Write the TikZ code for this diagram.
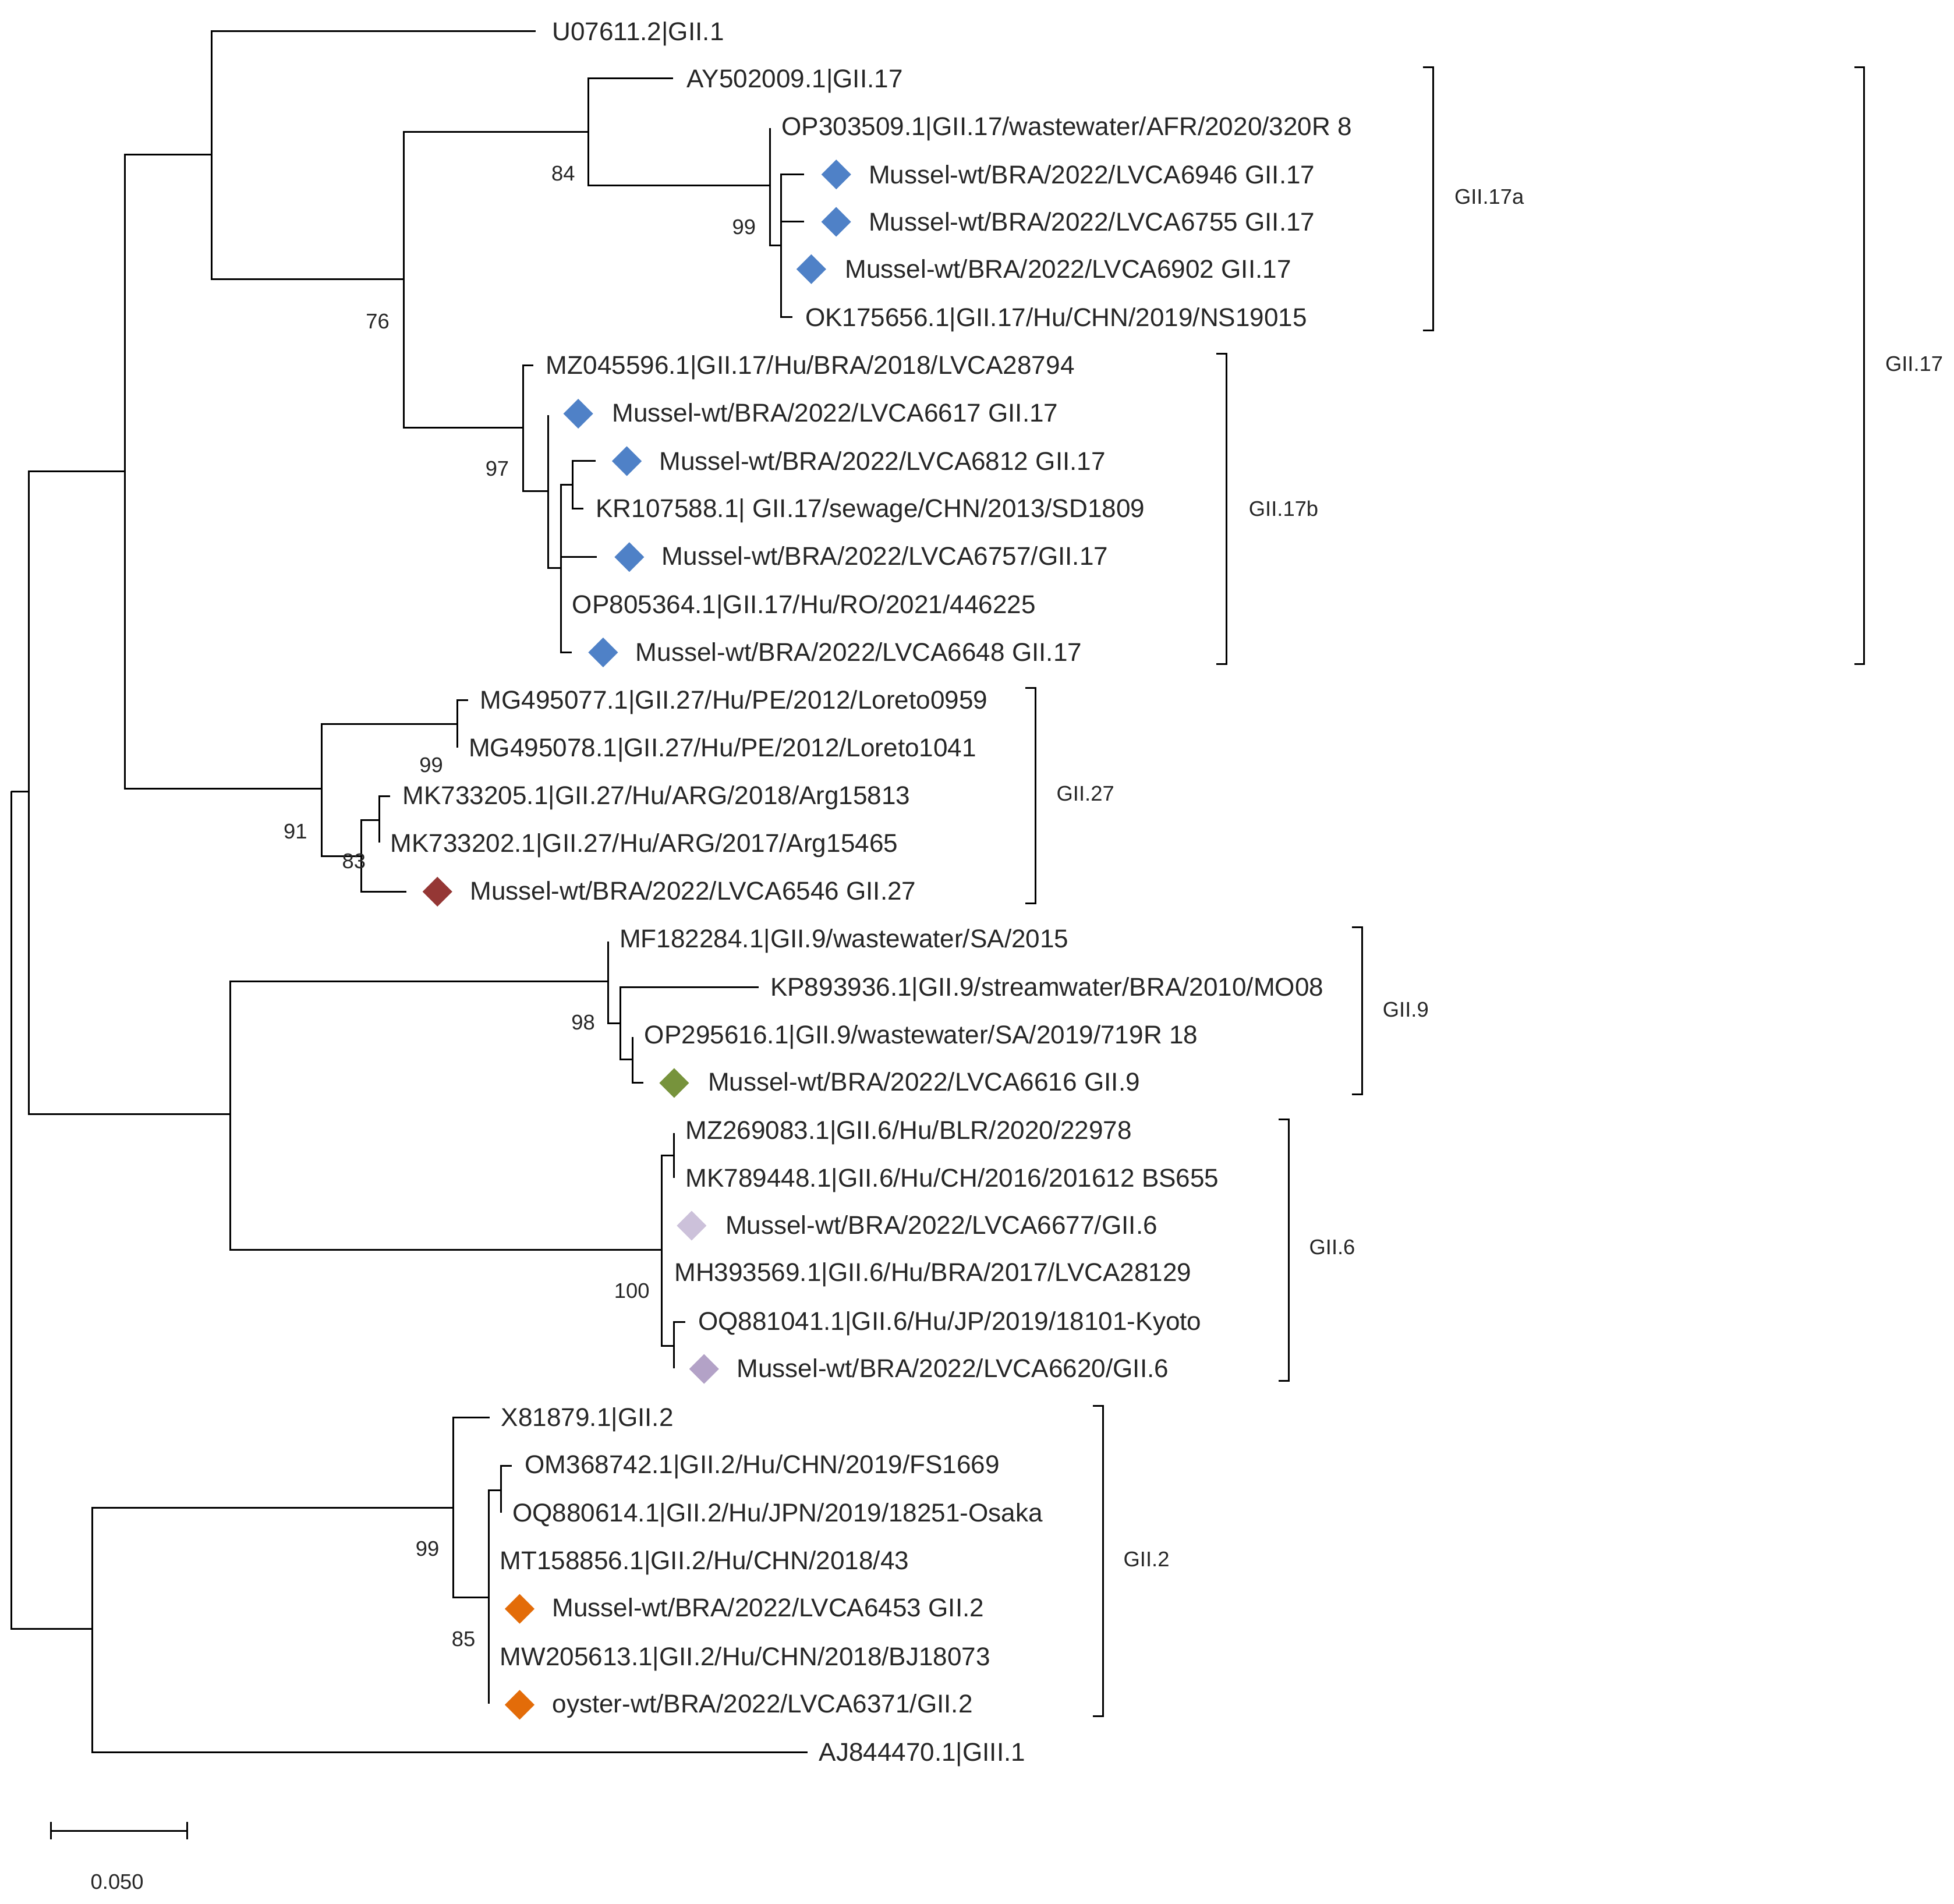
\documentclass[tikz,border=0pt]{standalone}
\usepackage{fontspec}
\setmainfont{Liberation Sans}
\usetikzlibrary{shapes.geometric}

\definecolor{markBlue}{HTML}{4F81C7}
\definecolor{markRed}{HTML}{953735}
\definecolor{markGreen}{HTML}{77933C}
\definecolor{markPale}{HTML}{CCC1DA}
\definecolor{markLilac}{HTML}{B3A2C7}
\definecolor{markOrange}{HTML}{E36C09}

\tikzset{
    branch/.style={line width=1.4pt, line join=miter},
    leaf/.style={anchor=west, inner sep=0pt, text height=14.6pt, text depth=0pt, text=black!85, font=\fontsize{20.6}{24}\selectfont},
    tag/.style={inner sep=0pt, text=black!85, font=\fontsize{17}{20}\selectfont},
    marker/.style={diamond, minimum size=24pt, inner sep=0pt, fill=#1}
}

\begin{document}
\begin{tikzpicture}[x=1pt, y=-1pt]
    \useasboundingbox (0,0) rectangle (1568,1527.4);

    % Define the positions of the inner nodes
    \coordinate (rootPos) at (9,635);
    \coordinate (aPos) at (23,635);
    \coordinate (bPos) at (100,378);
    \coordinate (cPos) at (170,124);
    \coordinate (dPos) at (324,224);
    \coordinate (ePos) at (472,106);
    \coordinate (fPos) at (618,149);
    \coordinate (gPos) at (627,197);
    \coordinate (hPos) at (420,343);
    \coordinate (iPos) at (440,394);
    \coordinate (jPos) at (450,456);
    \coordinate (kPos) at (459.5,389);
    \coordinate (lPos) at (258,633);
    \coordinate (mPos) at (367,581);
    \coordinate (nPos) at (290,687);
    \coordinate (oPos) at (304.6,658);
    \coordinate (pPos) at (185,894);
    \coordinate (qPos) at (488,787.5);
    \coordinate (rPos) at (498,821);
    \coordinate (sPos) at (507.6,850);
    \coordinate (tPos) at (531,1003);
    \coordinate (uPos) at (541,927);
    \coordinate (vPos) at (541,1080);
    \coordinate (wPos) at (74,1307);
    \coordinate (xPos) at (363.7,1210);
    \coordinate (yPos) at (392,1282);
    \coordinate (zPos) at (402,1196);

    % Define the free ends of the branches
    \coordinate (tipU07611) at (430,25);
    \coordinate (tipAY502009) at (540,63);
    \coordinate (tipOP303509) at (618,103);
    \coordinate (tip6946) at (645,140);
    \coordinate (tip6755) at (645,178);
    \coordinate (tip6902) at (627,216);
    \coordinate (tipOK175656) at (636,254.5);
    \coordinate (tipMZ045596) at (428,293);
    \coordinate (tip6617) at (440,333);
    \coordinate (tip6812) at (478,370);
    \coordinate (tipKR107588) at (468,408);
    \coordinate (tip6757) at (479,447);
    \coordinate (tipOP805364) at (450,485);
    \coordinate (tip6648) at (459,523.5);
    \coordinate (tipMG495077) at (375.5,562);
    \coordinate (tipMG495078) at (367,600);
    \coordinate (tipMK733205) at (313,639);
    \coordinate (tipMK733202) at (304.6,676);
    \coordinate (tip6546) at (326,715.5);
    \coordinate (tipMF182284) at (488,755.5);
    \coordinate (tipKP893936) at (609,792);
    \coordinate (tipOP295616) at (507.6,832);
    \coordinate (tip6616) at (516.4,869);
    \coordinate (tipMZ269083) at (541,909);
    \coordinate (tipMK789448) at (541,945);
    \coordinate (tipOQ881041) at (550,1060.6);
    \coordinate (tip6620) at (541,1098);
    \coordinate (tipX81879) at (393,1137.5);
    \coordinate (tipOM368742) at (410.6,1176);
    \coordinate (tipOQ880614) at (402,1213.6);
    \coordinate (tip6371) at (392,1367);
    \coordinate (tipAJ844470) at (648,1406);

    % Draw the tree
    \draw[branch] (rootPos) |- (aPos);
    \draw[branch] (rootPos) |- (wPos);
    \draw[branch] (aPos) |- (bPos);
    \draw[branch] (aPos) |- (pPos);
    \draw[branch] (bPos) |- (cPos);
    \draw[branch] (bPos) |- (lPos);
    \draw[branch] (cPos) |- (tipU07611);
    \draw[branch] (cPos) |- (dPos);
    \draw[branch] (dPos) |- (ePos);
    \draw[branch] (dPos) |- (hPos);
    \draw[branch] (ePos) |- (tipAY502009);
    \draw[branch] (ePos) |- (fPos);
    \draw[branch] (fPos) |- (tipOP303509);
    \draw[branch] (fPos) |- (gPos);
    \draw[branch] (gPos) |- (tip6946);
    \draw[branch] (gPos) |- (tip6755);
    \draw[branch] (gPos) |- (tip6902);
    \draw[branch] (gPos) |- (tipOK175656);
    \draw[branch] (hPos) |- (tipMZ045596);
    \draw[branch] (hPos) |- (iPos);
    \draw[branch] (iPos) |- (tip6617);
    \draw[branch] (iPos) |- (jPos);
    \draw[branch] (jPos) |- (kPos);
    \draw[branch] (jPos) |- (tip6757);
    \draw[branch] (jPos) |- (tipOP805364);
    \draw[branch] (jPos) |- (tip6648);
    \draw[branch] (kPos) |- (tip6812);
    \draw[branch] (kPos) |- (tipKR107588);
    \draw[branch] (lPos) |- (mPos);
    \draw[branch] (lPos) |- (nPos);
    \draw[branch] (mPos) |- (tipMG495077);
    \draw[branch] (mPos) |- (tipMG495078);
    \draw[branch] (nPos) |- (oPos);
    \draw[branch] (nPos) |- (tip6546);
    \draw[branch] (oPos) |- (tipMK733205);
    \draw[branch] (oPos) |- (tipMK733202);
    \draw[branch] (pPos) |- (qPos);
    \draw[branch] (pPos) |- (tPos);
    \draw[branch] (qPos) |- (tipMF182284);
    \draw[branch] (qPos) |- (rPos);
    \draw[branch] (rPos) |- (tipKP893936);
    \draw[branch] (rPos) |- (sPos);
    \draw[branch] (sPos) |- (tipOP295616);
    \draw[branch] (sPos) |- (tip6616);
    \draw[branch] (tPos) |- (uPos);
    \draw[branch] (tPos) |- (vPos);
    \draw[branch] (uPos) |- (tipMZ269083);
    \draw[branch] (uPos) |- (tipMK789448);
    \draw[branch] (vPos) |- (tipOQ881041);
    \draw[branch] (vPos) |- (tip6620);
    \draw[branch] (wPos) |- (xPos);
    \draw[branch] (wPos) |- (tipAJ844470);
    \draw[branch] (xPos) |- (tipX81879);
    \draw[branch] (xPos) |- (yPos);
    \draw[branch] (yPos) |- (zPos);
    \draw[branch] (yPos) |- (tip6371);
    \draw[branch] (zPos) |- (tipOM368742);
    \draw[branch] (zPos) |- (tipOQ880614);

    % Draw the sample markers
    \node[marker=markBlue] (mark6946) at (671,140) {};
    \node[marker=markBlue] (mark6755) at (671,178) {};
    \node[marker=markBlue] (mark6902) at (651,216) {};
    \node[marker=markBlue] (mark6617) at (464,332) {};
    \node[marker=markBlue] (mark6812) at (503,370) {};
    \node[marker=markBlue] (mark6757) at (505,447) {};
    \node[marker=markBlue] (mark6648) at (484,523.5) {};
    \node[marker=markRed] (mark6546) at (351,715.5) {};
    \node[marker=markGreen] (mark6616) at (541,869) {};
    \node[marker=markPale] (mark6677) at (555,983.5) {};
    \node[marker=markLilac] (mark6620) at (565,1098.5) {};
    \node[marker=markOrange] (mark6453) at (417,1291) {};
    \node[marker=markOrange] (mark6371) at (417,1368) {};

    % Draw the labels
    \node[leaf] (labelU07611) at (443,25) {U07611.2|GII.1};
    \node[leaf] (labelAY502009) at (551,63) {AY502009.1|GII.17};
    \node[leaf] (labelOP303509) at (627,101.5) {OP303509.1|GII.17/wastewater/AFR/2020/320R 8};
    \node[leaf] (label6946) at (697,140) {Mussel-wt/BRA/2022/LVCA6946 GII.17};
    \node[leaf] (label6755) at (697,178) {Mussel-wt/BRA/2022/LVCA6755 GII.17};
    \node[leaf] (label6902) at (678,216) {Mussel-wt/BRA/2022/LVCA6902 GII.17};
    \node[leaf] (labelOK175656) at (646,254.5) {OK175656.1|GII.17/Hu/CHN/2019/NS19015};
    \node[leaf] (labelMZ045596) at (438,293) {MZ045596.1|GII.17/Hu/BRA/2018/LVCA28794};
    \node[leaf] (label6617) at (491,331) {Mussel-wt/BRA/2022/LVCA6617 GII.17};
    \node[leaf] (label6812) at (529,370) {Mussel-wt/BRA/2022/LVCA6812 GII.17};
    \node[leaf] (labelKR107588) at (478,408) {KR107588.1| GII.17/sewage/CHN/2013/SD1809};
    \node[leaf] (label6757) at (531,446) {Mussel-wt/BRA/2022/LVCA6757/GII.17};
    \node[leaf] (labelOP805364) at (459,485) {OP805364.1|GII.17/Hu/RO/2021/446225};
    \node[leaf] (label6648) at (510,523) {Mussel-wt/BRA/2022/LVCA6648 GII.17};
    \node[leaf] (labelMG495077) at (385,561.5) {MG495077.1|GII.27/Hu/PE/2012/Loreto0959};
    \node[leaf] (labelMG495078) at (376,600) {MG495078.1|GII.27/Hu/PE/2012/Loreto1041};
    \node[leaf] (labelMK733205) at (323,638) {MK733205.1|GII.27/Hu/ARG/2018/Arg15813};
    \node[leaf] (labelMK733202) at (313,676.5) {MK733202.1|GII.27/Hu/ARG/2017/Arg15465};
    \node[leaf] (label6546) at (377,715) {Mussel-wt/BRA/2022/LVCA6546 GII.27};
    \node[leaf] (labelMF182284) at (497,753) {MF182284.1|GII.9/wastewater/SA/2015};
    \node[leaf] (labelKP893936) at (618,792) {KP893936.1|GII.9/streamwater/BRA/2010/MO08};
    \node[leaf] (labelOP295616) at (517,830) {OP295616.1|GII.9/wastewater/SA/2019/719R 18};
    \node[leaf] (label6616) at (568,868) {Mussel-wt/BRA/2022/LVCA6616 GII.9};
    \node[leaf] (labelMZ269083) at (550,907) {MZ269083.1|GII.6/Hu/BLR/2020/22978};
    \node[leaf] (labelMK789448) at (550,945) {MK789448.1|GII.6/Hu/CH/2016/201612 BS655};
    \node[leaf] (label6677) at (582,983) {Mussel-wt/BRA/2022/LVCA6677/GII.6};
    \node[leaf] (labelMH393569) at (541,1021) {MH393569.1|GII.6/Hu/BRA/2017/LVCA28129};
    \node[leaf] (labelOQ881041) at (560,1060) {OQ881041.1|GII.6/Hu/JP/2019/18101-Kyoto};
    \node[leaf] (label6620) at (591,1098) {Mussel-wt/BRA/2022/LVCA6620/GII.6};
    \node[leaf] (labelX81879) at (402,1137) {X81879.1|GII.2};
    \node[leaf] (labelOM368742) at (421,1175) {OM368742.1|GII.2/Hu/CHN/2019/FS1669};
    \node[leaf] (labelOQ880614) at (411,1214) {OQ880614.1|GII.2/Hu/JPN/2019/18251-Osaka};
    \node[leaf] (labelMT158856) at (401,1252) {MT158856.1|GII.2/Hu/CHN/2018/43};
    \node[leaf] (label6453) at (443,1290) {Mussel-wt/BRA/2022/LVCA6453 GII.2};
    \node[leaf] (labelMW205613) at (401,1329) {MW205613.1|GII.2/Hu/CHN/2018/BJ18073};
    \node[leaf] (label6371) at (443,1367) {oyster-wt/BRA/2022/LVCA6371/GII.2};
    \node[leaf] (labelAJ844470) at (657,1406) {AJ844470.1|GIII.1};

    % Draw the support values
    \node[tag] (support76) at (303,258) {76};
    \node[tag] (support84) at (452,139) {84};
    \node[tag] (support99a) at (597,182) {99};
    \node[tag] (support97) at (399,376) {97};
    \node[tag] (support99b) at (346,614) {99};
    \node[tag] (support91) at (237,667) {91};
    \node[tag] (support83) at (284,691) {83};
    \node[tag] (support98) at (468,820.5) {98};
    \node[tag] (support100) at (507,1036) {100};
    \node[tag] (support99c) at (343,1243) {99};
    \node[tag] (support85) at (372,1315) {85};

    % Draw the clade brackets
    \draw[branch] (1142,54) coordinate (top17a) -- ++(8,0) |- (1142,265) coordinate (bottom17a);
    \draw[branch] (976,284) coordinate (top17b) -- ++(8,0) |- (976,533) coordinate (bottom17b);
    \draw[branch] (1488,54) coordinate (top17) -- ++(8,0) |- (1488,533) coordinate (bottom17);
    \draw[branch] (823,552) coordinate (top27) -- ++(8,0) |- (823,725) coordinate (bottom27);
    \draw[branch] (1085,744) coordinate (top9) -- ++(8,0) |- (1085,878) coordinate (bottom9);
    \draw[branch] (1026,898) coordinate (top6) -- ++(8,0) |- (1026,1108) coordinate (bottom6);
    \draw[branch] (877,1128) coordinate (top2) -- ++(8,0) |- (877,1377) coordinate (bottom2);

    \node[tag] (clade17a) at (1195,158) {GII.17a};
    \node[tag] (clade17b) at (1030,408) {GII.17b};
    \node[tag] (clade17) at (1536,292) {GII.17};
    \node[tag] (clade27) at (871,637) {GII.27};
    \node[tag] (clade9) at (1128,810) {GII.9};
    \node[tag] (clade6) at (1069,1001) {GII.6};
    \node[tag] (clade2) at (920,1251) {GII.2};

    % Draw the scale bar
    \coordinate (barLeft) at (41,1469);
    \coordinate (barRight) at (150,1469);
    \draw[branch] (barLeft) -- (barRight);
    \draw[branch] ([yshift=7pt]barLeft) -- ([yshift=-7pt]barLeft);
    \draw[branch] ([yshift=7pt]barRight) -- ([yshift=-7pt]barRight);
    \node[tag] (barLabel) at (94,1510) {0.050};
\end{tikzpicture}
\end{document}
